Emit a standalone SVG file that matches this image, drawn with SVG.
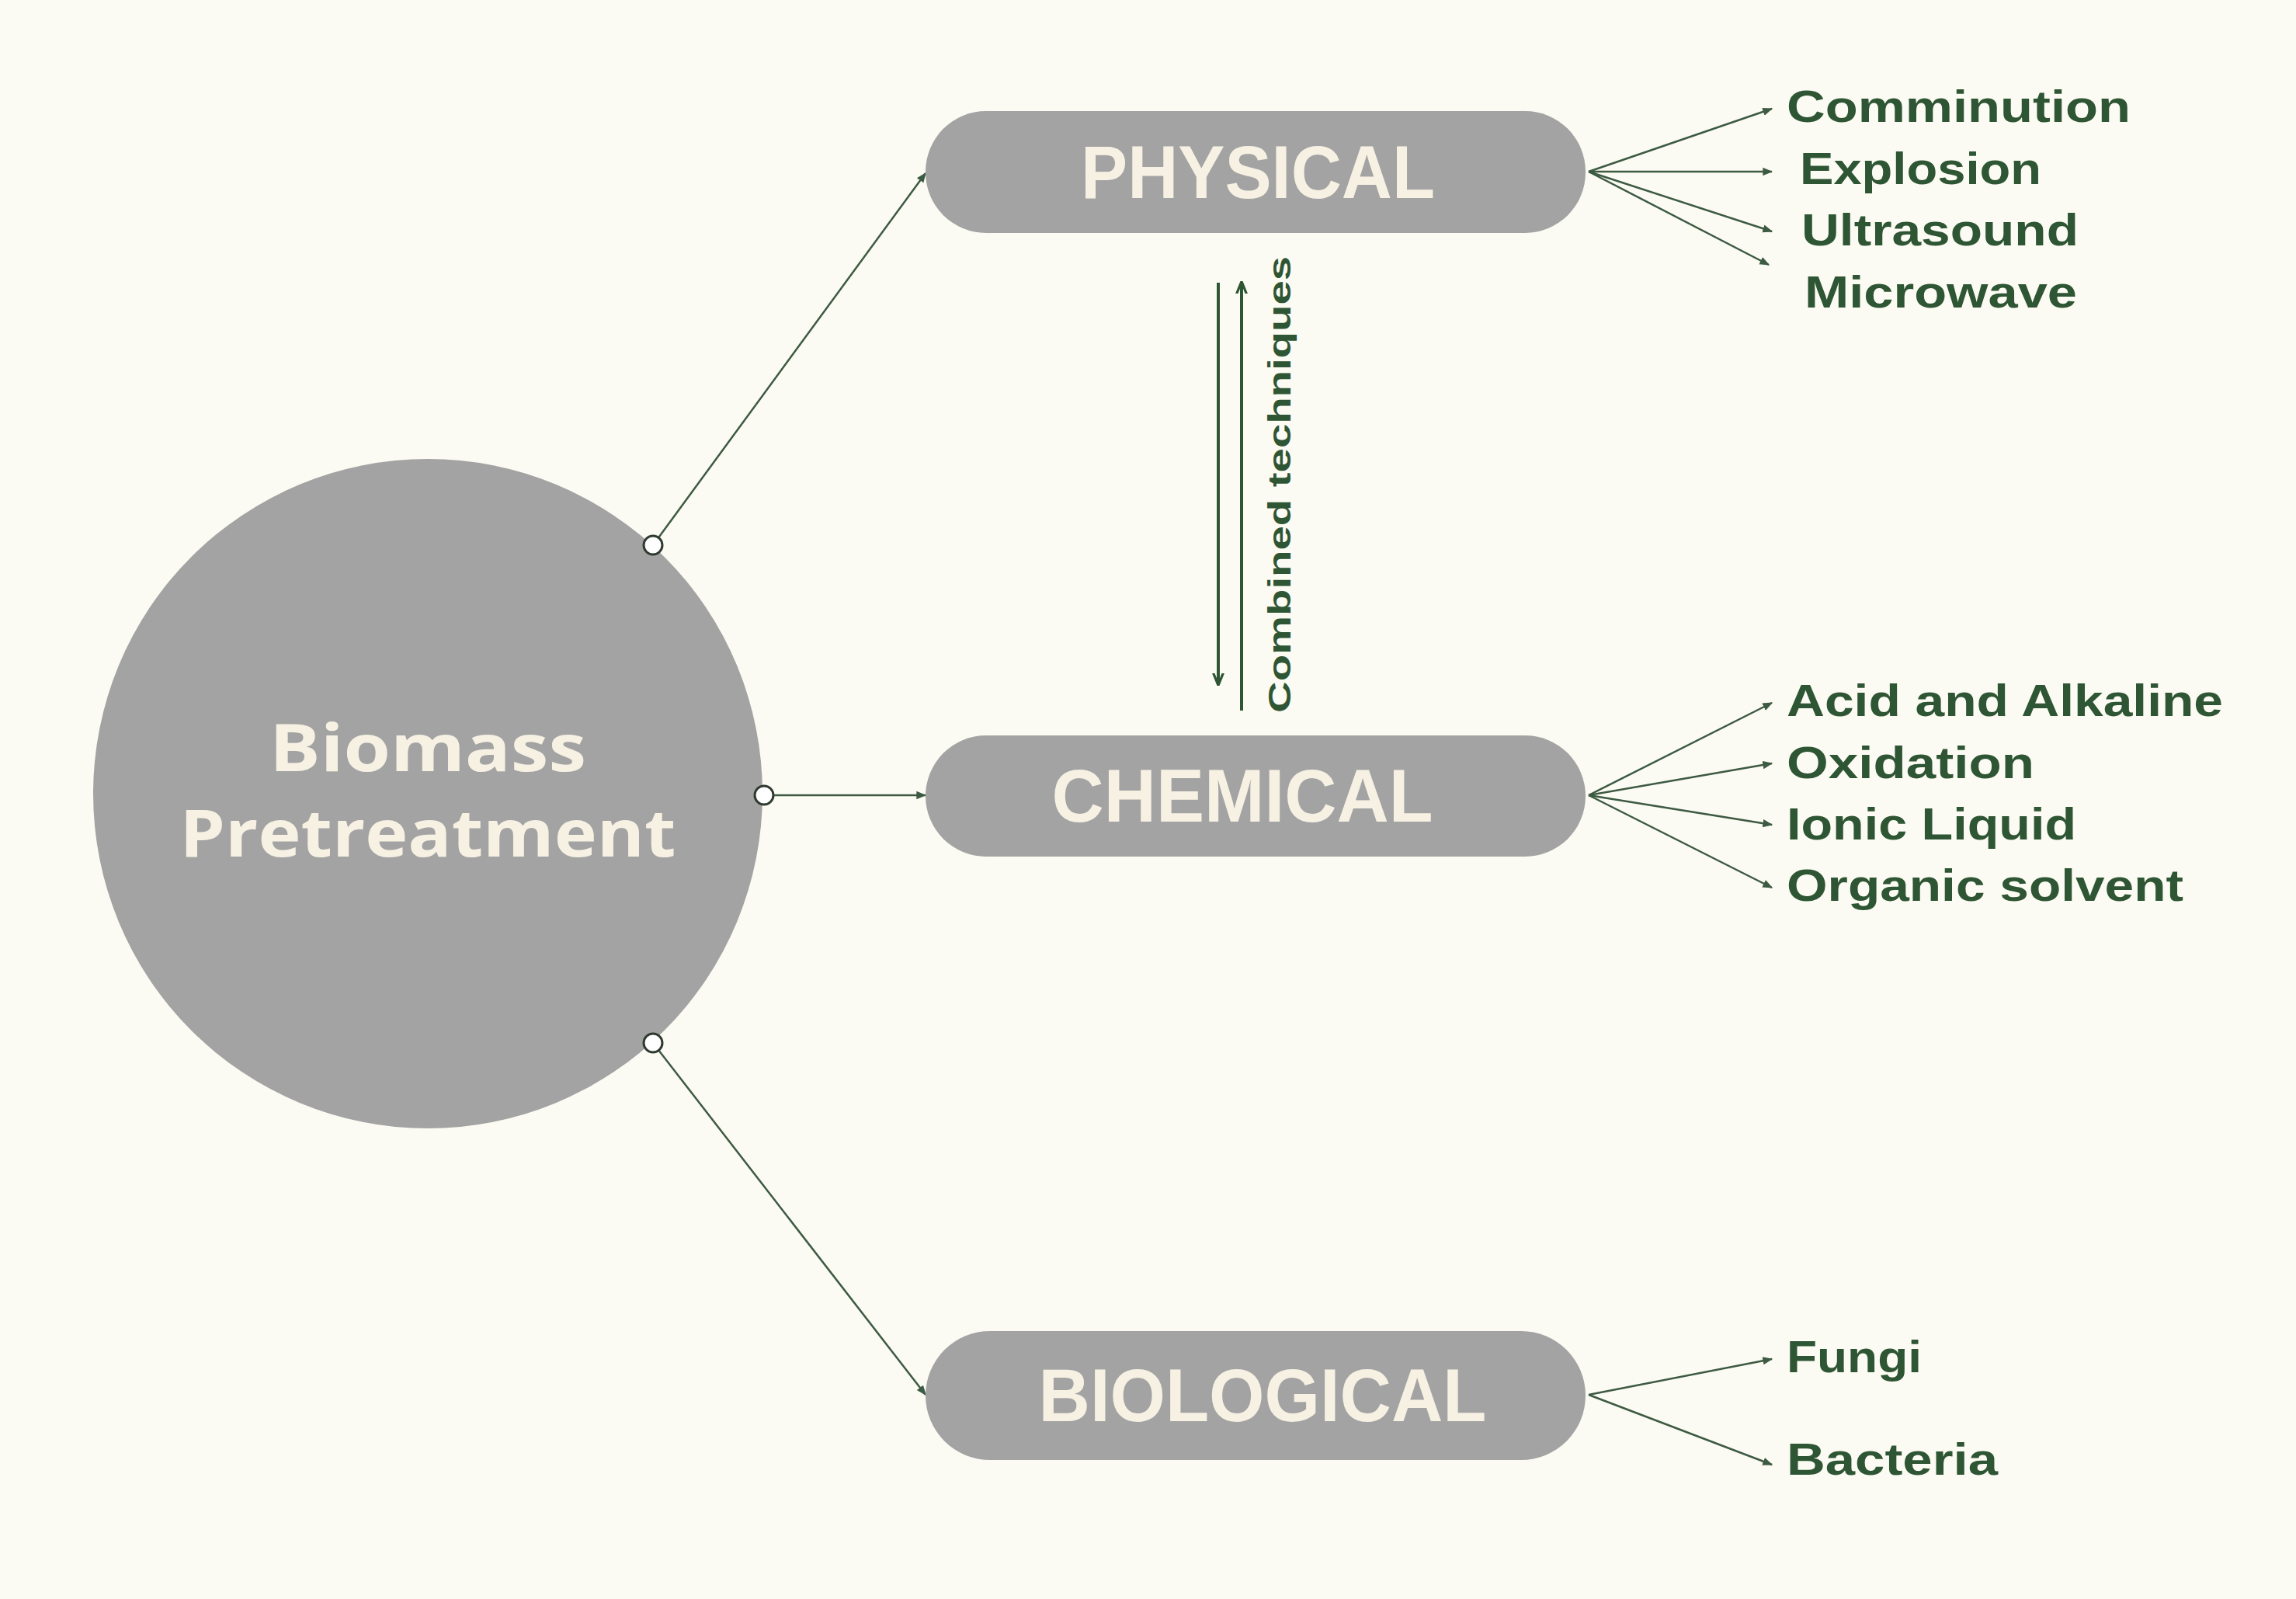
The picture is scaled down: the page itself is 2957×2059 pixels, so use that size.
<svg xmlns="http://www.w3.org/2000/svg" width="2957" height="2059" viewBox="0 0 2957 2059">
<style>
.pill{fill:#a3a3a3}
.pt{font-family:"Liberation Sans",Arial,sans-serif;font-weight:bold;font-size:96px;fill:#f6f1e3;text-anchor:middle}
.lb{font-family:"Liberation Sans",Arial,sans-serif;font-weight:bold;font-size:58px;fill:#2f5634}
.bt{font-family:"Open Sans","Liberation Sans",sans-serif;font-weight:bold;font-size:84px;fill:#f6f1e3;text-anchor:middle}
.c{stroke:#3d5a42;stroke-width:2.5;fill:none;marker-end:url(#a)}
.g{stroke:#2f5634;stroke-width:4;fill:none}
.dot{fill:#ffffff;stroke:#2f3a30;stroke-width:3}
</style>
<defs>
<marker id="a" viewBox="0 0 10 10" refX="9" refY="5" markerWidth="13" markerHeight="13" orient="auto" markerUnits="userSpaceOnUse"><path d="M0,1L10,5L0,9z" fill="#3d5a42"/></marker>
<marker id="b" viewBox="0 0 10 10" refX="9" refY="5" markerWidth="16" markerHeight="16" orient="auto" markerUnits="userSpaceOnUse"><path d="M0,1L10,5L0,9" fill="none" stroke="#2f5634" stroke-width="2"/></marker>
</defs>
<rect width="2957" height="2059" fill="#fcfbf3"/>
<g id="connectors">
<line class="c" x1="841" y1="702" x2="1192" y2="223"/>
<line class="c" x1="984" y1="1024" x2="1192" y2="1024"/>
<line class="c" x1="841" y1="1343" x2="1192" y2="1796"/>
<line class="c" x1="2046" y1="221" x2="2282" y2="140"/>
<line class="c" x1="2046" y1="221" x2="2282" y2="221"/>
<line class="c" x1="2046" y1="221" x2="2282" y2="298"/>
<line class="c" x1="2046" y1="221" x2="2278" y2="341"/>
<line class="c" x1="2046" y1="1024" x2="2282" y2="905"/>
<line class="c" x1="2046" y1="1024" x2="2282" y2="983"/>
<line class="c" x1="2046" y1="1024" x2="2282" y2="1062"/>
<line class="c" x1="2046" y1="1024" x2="2282" y2="1143"/>
<line class="c" x1="2046" y1="1796" x2="2282" y2="1750"/>
<line class="c" x1="2046" y1="1796" x2="2282" y2="1886"/>
<line class="g" x1="1569" y1="364" x2="1569" y2="881" marker-end="url(#b)"/>
<line class="g" x1="1599" y1="915" x2="1599" y2="364" marker-end="url(#b)"/>
<text x="1662" y="624" transform="rotate(-90 1662 624)" text-anchor="middle" font-family="'Liberation Sans',Arial,sans-serif" font-weight="bold" font-size="40" fill="#2f5634" textLength="588" lengthAdjust="spacingAndGlyphs">Combined techniques</text>
</g>
<g id="biomass">
<circle cx="551" cy="1022" r="431" fill="#a3a3a3"/>
<text class="bt" x="551" y="993" textLength="408" lengthAdjust="spacingAndGlyphs">Biomass</text>
<text class="bt" x="551" y="1103" textLength="639" lengthAdjust="spacingAndGlyphs">Pretreatment</text>
<circle class="dot" cx="841" cy="702" r="12"/>
<circle class="dot" cx="984" cy="1024" r="12"/>
<circle class="dot" cx="841" cy="1343" r="12"/>
</g>
<g id="physical">
<rect class="pill" x="1192" y="143" width="850" height="157" rx="78"/>
<text class="pt" x="1620" y="255" textLength="456" lengthAdjust="spacingAndGlyphs">PHYSICAL</text>
</g>
<g id="chemical">
<rect class="pill" x="1192" y="947" width="850" height="156" rx="78"/>
<text class="pt" x="1600" y="1058" textLength="491" lengthAdjust="spacingAndGlyphs">CHEMICAL</text>
</g>
<g id="biological">
<rect class="pill" x="1192" y="1714" width="850" height="166" rx="83"/>
<text class="pt" x="1626" y="1830" textLength="577" lengthAdjust="spacingAndGlyphs">BIOLOGICAL</text>
</g>
<g id="physical-items">
<text class="lb" x="2301" y="157" textLength="443" lengthAdjust="spacingAndGlyphs">Comminution</text>
<text class="lb" x="2318" y="237" textLength="311" lengthAdjust="spacingAndGlyphs">Explosion</text>
<text class="lb" x="2320" y="316" textLength="357" lengthAdjust="spacingAndGlyphs">Ultrasound</text>
<text class="lb" x="2324" y="396" textLength="351" lengthAdjust="spacingAndGlyphs">Microwave</text>
</g>
<g id="chemical-items">
<text class="lb" x="2301" y="922" textLength="562" lengthAdjust="spacingAndGlyphs">Acid and Alkaline</text>
<text class="lb" x="2301" y="1002" textLength="319" lengthAdjust="spacingAndGlyphs">Oxidation</text>
<text class="lb" x="2301" y="1081" textLength="373" lengthAdjust="spacingAndGlyphs">Ionic Liquid</text>
<text class="lb" x="2301" y="1160" textLength="511" lengthAdjust="spacingAndGlyphs">Organic solvent</text>
</g>
<g id="biological-items">
<text class="lb" x="2301" y="1767" textLength="174" lengthAdjust="spacingAndGlyphs">Fungi</text>
<text class="lb" x="2301" y="1899" textLength="272" lengthAdjust="spacingAndGlyphs">Bacteria</text>
</g>
</svg>
